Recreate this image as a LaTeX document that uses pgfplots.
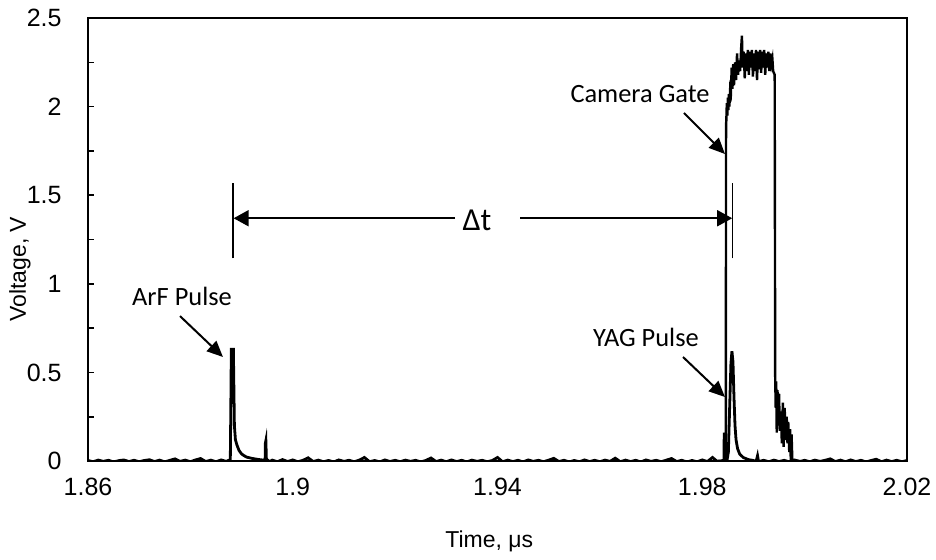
\documentclass[border=0pt]{standalone}
\usepackage{fontspec}
\setmainfont{Liberation Sans}
\newfontfamily\calibri{Carlito}
\usepackage{pgfplots}
\pgfplotsset{compat=1.18}
\usetikzlibrary{arrows.meta}
\begin{document}
\begin{tikzpicture}
\useasboundingbox (-44pt,-49pt) rectangle (424pt,230.5pt);
\begin{axis}[
  at={(0,0)}, anchor=south west,
  scale only axis, width=409.5pt, height=221.5pt,
  xmin=1.86, xmax=2.02, ymin=0, ymax=2.5,
  axis line style={line width=1.2pt},
  xtick={1.86,1.9,1.94,1.98,2.02},
  xticklabels={1.86,1.9,1.94,1.98,2.02},
  ytick={0,0.5,1,1.5,2,2.5},
  yticklabels={0,0.5,1,1.5,2,2.5},
  minor ytick={0.25,0.75,1.25,1.75,2.25},
  ytick pos=left, tick align=inside,
  major tick length=3pt, minor tick length=3pt,
  xtick style={draw=none},
  ytick style={line width=0.8pt, black},
  minor y tick style={line width=0.8pt, black},
  /pgf/number format/assume math mode=true,
  tick label style={font=\fontsize{12.5}{14}\selectfont},
  xticklabel style={anchor=north, inner sep=0pt, yshift=-8.5pt},
  yticklabel style={anchor=east, inner sep=0pt, xshift=-13pt},
  xlabel={Time, μs},
  ylabel={Voltage, V},
  label style={font=\fontsize{11.5}{13}\selectfont},
  xlabel style={at={(axis description cs:0.49,0)}, anchor=center, yshift=-40pt},
  ylabel style={at={(axis description cs:0,0.433)}, anchor=center, rotate=0, yshift=34pt},
  clip=true,
]
% ArF / YAG pulse trace
\addplot[black, line width=1.4pt] coordinates {
(1.860,0.003)(1.861,-0.004)(1.862,0.005)(1.863,-0.002)(1.864,0.004)(1.865,-0.005)
(1.866,0.002)(1.867,0.006)(1.868,-0.003)(1.869,0.004)(1.870,-0.004)(1.871,0.003)
(1.872,0.007)(1.873,-0.003)(1.874,0.005)(1.875,-0.005)(1.876,0.004)(1.877,0.012)
(1.878,-0.002)(1.879,0.005)(1.880,-0.004)(1.881,0.006)(1.882,0.014)(1.883,-0.003)
(1.884,0.005)(1.885,-0.004)(1.886,0.006)(1.887,-0.002)(1.8875,0.004)
(1.8878,0.002)(1.8879,0.30)(1.8880,0.63)(1.8884,0.63)(1.8886,0.20)(1.8888,0.12)
(1.8891,0.09)(1.8895,0.06)(1.8900,0.04)(1.8905,0.03)(1.8910,0.022)(1.8920,0.015)
(1.8930,0.010)(1.8940,0.006)(1.8946,0.004)(1.89465,0.10)(1.89475,0.115)(1.89485,0.01)
(1.8955,-0.003)(1.896,0.005)(1.897,-0.004)(1.898,0.008)(1.899,-0.003)(1.900,0.006)
(1.901,-0.004)(1.902,0.004)(1.903,0.018)(1.904,-0.003)(1.905,0.005)(1.906,-0.004)
(1.907,0.003)(1.908,-0.005)(1.909,0.006)(1.910,-0.002)(1.911,0.004)(1.912,-0.004)
(1.913,0.005)(1.914,0.020)(1.915,-0.004)(1.916,0.003)(1.917,-0.005)(1.918,0.006)
(1.919,-0.003)(1.920,0.004)(1.921,-0.004)(1.922,0.005)(1.923,-0.002)(1.924,0.004)
(1.925,-0.005)(1.926,0.003)(1.927,0.017)(1.928,-0.003)(1.929,0.005)(1.930,-0.004)
(1.931,0.006)(1.932,-0.003)(1.933,0.004)(1.934,-0.005)(1.935,0.005)(1.936,-0.002)
(1.937,0.004)(1.938,-0.004)(1.939,0.003)(1.940,0.020)(1.941,-0.004)(1.942,0.005)
(1.943,-0.003)(1.944,0.004)(1.945,-0.005)(1.946,0.006)(1.947,-0.002)(1.948,0.004)
(1.949,-0.004)(1.950,0.005)(1.951,0.015)(1.952,-0.003)(1.953,0.004)(1.954,-0.005)
(1.955,0.003)(1.956,-0.004)(1.957,0.006)(1.958,-0.003)(1.959,0.004)(1.960,-0.004)
(1.961,0.005)(1.962,-0.002)(1.963,0.016)(1.964,-0.004)(1.965,0.005)(1.966,-0.003)
(1.967,0.004)(1.968,-0.005)(1.969,0.006)(1.970,-0.002)(1.971,0.004)(1.972,-0.004)
(1.973,0.005)(1.974,0.014)(1.975,-0.003)(1.976,0.004)(1.977,-0.005)(1.978,0.003)
(1.979,-0.004)(1.980,0.006)(1.981,-0.003)(1.982,0.020)(1.983,-0.004)(1.984,0.003)
(1.9848,-0.002)(1.9851,0.05)(1.9853,0.25)(1.9856,0.55)(1.9858,0.62)(1.9860,0.56)
(1.9862,0.36)(1.9864,0.20)(1.9866,0.12)(1.9869,0.07)(1.9873,0.04)(1.9880,0.02)
(1.9890,0.008)(1.9900,0.003)(1.9905,-0.004)(1.9908,0.03)(1.9910,-0.003)(1.992,0.004)
(1.993,-0.004)(1.994,0.005)(1.995,-0.003)(1.996,0.004)(1.997,-0.005)(1.998,0.006)
(1.999,-0.003)(2.000,0.004)(2.001,-0.004)(2.002,0.005)(2.003,-0.002)(2.004,0.004)
(2.005,0.012)(2.006,-0.003)(2.007,0.005)(2.008,-0.004)(2.009,0.006)(2.010,-0.003)
(2.011,0.004)(2.012,-0.005)(2.013,0.003)(2.014,0.010)(2.015,-0.004)(2.016,0.005)
(2.017,-0.003)(2.018,0.004)(2.019,-0.004)(2.020,0.003)
};
% Camera gate trace
\addplot[black, line width=1.2pt] coordinates {
(1.9830,0.002)(1.9840,-0.002)(1.98420,0.005)(1.98425,0.16)(1.98430,0.08)(1.98440,0.01)
(1.98455,0.01)(1.98460,0.04)(1.98465,1.90)(1.98470,1.92)(1.98480,2.02)(1.98490,1.95)
(1.98500,2.05)(1.98510,1.98)(1.98520,2.07)(1.98530,2.00)(1.98545,2.10)(1.98560,2.08)
(1.98575,2.22)(1.98590,2.10)(1.98605,2.24)(1.98620,2.12)(1.98640,2.25)(1.98660,2.15)
(1.98680,2.30)(1.98700,2.18)(1.98720,2.26)(1.98740,2.20)(1.98760,2.33)(1.98775,2.40)
(1.98790,2.22)(1.98810,2.31)(1.98830,2.16)(1.98850,2.30)(1.98870,2.20)(1.98890,2.32)
(1.98910,2.18)(1.98930,2.31)(1.98950,2.22)(1.98970,2.32)(1.98990,2.17)(1.99010,2.30)
(1.99030,2.20)(1.99050,2.32)(1.99070,2.15)(1.99090,2.31)(1.99110,2.21)(1.99130,2.32)
(1.99150,2.19)(1.99170,2.31)(1.99190,2.22)(1.99210,2.32)(1.99230,2.18)(1.99250,2.30)
(1.99270,2.22)(1.99290,2.31)(1.99310,2.20)(1.99330,2.30)(1.99350,2.24)(1.99370,2.27)
(1.99385,2.20)(1.99415,2.18)(1.99425,0.47)(1.99435,0.30)(1.99445,0.45)(1.99455,0.16)
(1.99470,0.40)(1.99485,0.20)(1.99500,0.38)(1.99515,0.17)(1.99535,0.28)(1.99555,0.10)
(1.99575,0.33)(1.99590,0.08)(1.99610,0.30)(1.99630,0.12)(1.99650,0.25)(1.99665,0.10)
(1.99680,0.22)(1.99700,0.05)(1.99715,0.18)(1.99730,0.00)(1.99745,0.15)(1.99760,0.00)
(1.99780,0.005)(1.9990,0.0)
};
% Delta t markers
\draw[black, line width=0.75pt] (axis cs:1.88833,1.144) -- (axis cs:1.88833,1.567);
\draw[black, line width=0.75pt] (axis cs:1.98595,1.144) -- (axis cs:1.98595,1.567);
\draw[black, line width=0.9pt, -{Triangle[length=7.5pt,width=8pt]}] (axis cs:1.9317,1.37) -- (axis cs:1.88845,1.37);
\draw[black, line width=0.9pt, -{Triangle[length=7.5pt,width=8pt]}] (axis cs:1.9444,1.37) -- (axis cs:1.98585,1.37);
\node[font=\calibri\fontsize{16}{18}\selectfont] at (axis cs:1.9360,1.36) {Δt};
% annotations
\node[font=\calibri\fontsize{13.2}{15}\selectfont] at (axis cs:1.87836,0.931) {ArF Pulse};
\draw[black, line width=1pt, -{Triangle[length=8pt,width=7pt]}] (axis cs:1.87797,0.818) -- (axis cs:1.88637,0.587);
\node[font=\calibri\fontsize{13.2}{15}\selectfont] at (axis cs:1.9690,0.70) {YAG Pulse};
\draw[black, line width=1pt, -{Triangle[length=8pt,width=7pt]}] (axis cs:1.97624,0.587) -- (axis cs:1.98444,0.361);
\node[font=\calibri\fontsize{13.2}{15}\selectfont] at (axis cs:1.96784,2.071) {Camera Gate};
\draw[black, line width=1pt, -{Triangle[length=8pt,width=7pt]}] (axis cs:1.97643,1.964) -- (axis cs:1.98444,1.7325);
\end{axis}
\end{tikzpicture}
\end{document}
